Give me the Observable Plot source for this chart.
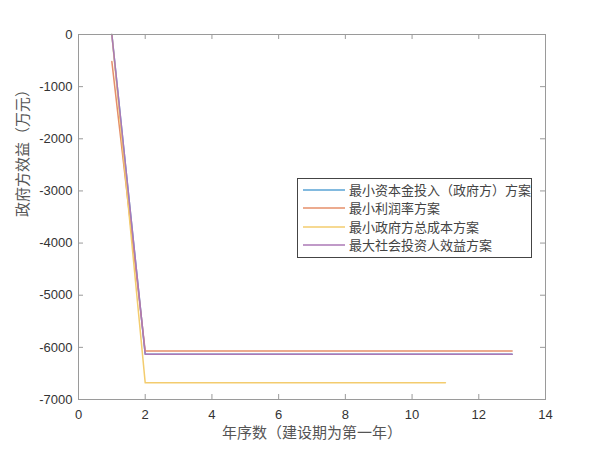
<!DOCTYPE html>
<html><head><meta charset="utf-8">
<script src="https://cdn.jsdelivr.net/npm/d3@7"></script>
<script src="https://cdn.jsdelivr.net/npm/@observablehq/plot@0.6"></script>
<style>
body{margin:0;background:#fff}
#c{position:relative;width:600px;height:450px}
#legend{position:absolute;left:297px;top:178px;width:235px;height:80px;box-sizing:border-box;border:1px solid #444;background:#fff;font-family:"Noto Sans CJK SC",sans-serif;font-size:13px;color:#444}
#legend .row{position:absolute;left:0;height:18px;line-height:18px;width:100%}
#legend svg{position:absolute;left:4px;top:0}
#legend .lb{position:absolute;left:51px;white-space:nowrap}
</style>
</head><body><div id="c"></div>
<script>
const seriesNames = ["最小资本金投入（政府方）方案","最小利润率方案","最小政府方总成本方案","最大社会投资人效益方案"];
const seriesColors = ["#0072BD","#D95319","#EDB120","#7E2F8E"];
const years13 = [1,2,3,4,5,6,7,8,9,10,11,12,13];
const years11 = [1,2,3,4,5,6,7,8,9,10,11];
const minCapital = [0,-6130,-6130,-6130,-6130,-6130,-6130,-6130,-6130,-6130,-6130,-6130,-6130];
const minProfit = [-520,-6070,-6070,-6070,-6070,-6070,-6070,-6070,-6070,-6070,-6070,-6070,-6070];
const minGovCost = [0,-6680,-6680,-6680,-6680,-6680,-6680,-6680,-6680,-6680,-6680];
const maxSocial = [0,-6130,-6130,-6130,-6130,-6130,-6130,-6130,-6130,-6130,-6130,-6130,-6130];
const xTicks = [0,2,4,6,8,10,12,14];
const yTicks = [0,-1000,-2000,-3000,-4000,-5000,-6000,-7000];
const xLabel = "年序数（建设期为第一年）";
const yLabel = "政府方效益（万元）";

// lighten colours to mimic the thin anti-aliased look of the reference
const shown = seriesColors.map(c=>d3.interpolateRgb(c,"#fff")(0.35));

const seriesData = [[years13,minCapital],[years13,minProfit],[years11,minGovCost],[years13,maxSocial]];
const rows = seriesData.flatMap(([xs,vs],i)=>xs.map((x,j)=>({series:seriesNames[i],year:x,value:vs[j]})));

const W=600,H=450,mL=78,mR=55,mT=34,mB=51;
const pw=W-mL-mR, ph=H-mT-mB, tk=5;
const cjk = "'Noto Sans CJK SC', sans-serif";
const axisGray = "#9a9a9a";
const chart = Plot.plot({
  width:W,height:H,marginLeft:mL,marginRight:mR,marginTop:mT,marginBottom:mB,
  style:{fontFamily:"'Liberation Sans', Arial, sans-serif",fontSize:"13px",color:"#333",background:"#fff"},
  x:{domain:[0,14]},
  y:{domain:[-7000,0]},
  color:{domain:seriesNames,range:shown},
  marks:[
    Plot.line(rows,{x:"year",y:"value",z:"series",stroke:"series",strokeWidth:1.5}),
    Plot.frame({stroke:axisGray,strokeWidth:1}),
    Plot.tickX(xTicks,{x:d=>d,stroke:axisGray,insetTop:ph-tk}),
    Plot.tickX(xTicks,{x:d=>d,stroke:axisGray,insetBottom:ph-tk}),
    Plot.tickY(yTicks,{y:d=>d,stroke:axisGray,insetRight:pw-tk}),
    Plot.tickY(yTicks,{y:d=>d,stroke:axisGray,insetLeft:pw-tk}),
    Plot.axisX({ticks:xTicks,tickSize:0,tickPadding:10,label:null,tickFormat:d=>String(d)}),
    Plot.axisY({ticks:yTicks,tickSize:0,tickPadding:6,label:null,tickFormat:d=>String(d)}),
    Plot.text([xLabel],{frameAnchor:"bottom",dy:38,fontFamily:cjk,fontSize:15,fill:"#555"}),
    Plot.text([yLabel],{frameAnchor:"left",dx:-55,rotate:-90,fontFamily:cjk,fontSize:15,fill:"#555"})
  ]
});
const c=document.getElementById("c");
c.appendChild(chart);
const lg=document.createElement("div");lg.id="legend";
seriesNames.forEach((n,i)=>{
  const r=document.createElement("div");r.className="row";r.style.top=(2+i*18.3)+"px";
  r.innerHTML=`<svg width="44" height="18"><line x1="1" x2="43" y1="9" y2="9" stroke="${shown[i]}" stroke-width="1.5"/></svg>`;
  const l=document.createElement("div");l.className="lb";l.textContent=n;
  r.appendChild(l);lg.appendChild(r);
});
c.appendChild(lg);
</script>
</body></html>
